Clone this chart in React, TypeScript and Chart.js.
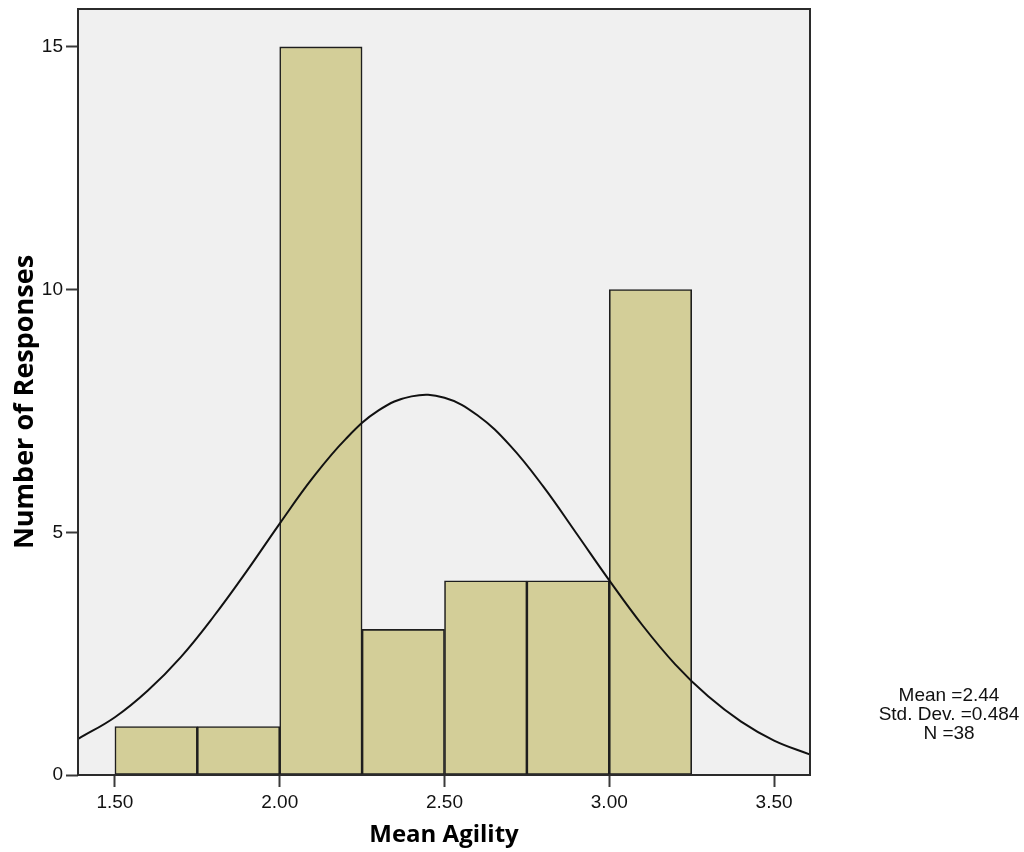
import React, { useEffect, useRef } from "react";
import { Chart, registerables } from "chart.js";

Chart.register(...registerables);

// Histogram bins (centers) and counts
const binCenters = [1.625, 1.875, 2.125, 2.375, 2.625, 2.875, 3.125];
const binCounts = [1, 1, 15, 3, 4, 4, 10];

// Normal curve
const curveX = [1.39, 1.5, 1.6, 1.7, 1.8, 1.9, 2.0, 2.1, 2.2, 2.3, 2.4, 2.5, 2.6, 2.7, 2.8, 2.9, 3.0, 3.1, 3.2, 3.3, 3.4, 3.5, 3.61];
const curveY = [0.75, 1.19, 1.74, 2.43, 3.27, 4.2, 5.18, 6.12, 6.92, 7.51, 7.8, 7.77, 7.41, 6.78, 5.94, 4.98, 4.01, 3.09, 2.28, 1.62, 1.1, 0.71, 0.42];

const xTicks = [1.5, 2.0, 2.5, 3.0, 3.5];
const yTicks = [0, 5, 10, 15];
const xTitle = "Mean Agility";
const yTitle = "Number of Responses";
const statLines = ["Mean =2.44", "Std. Dev. =0.484", "N =38"];

const X_MIN = 1.388;
const X_MAX = 3.609;
const Y_MAX = 15.78;

const TICK_FONT = "'Liberation Sans', Arial, sans-serif";
const TITLE_FONT = "'Open Sans', 'DejaVu Sans', sans-serif";

const decorPlugin = {
  id: "decor",
  beforeDraw(chart: any) {
    const { ctx, chartArea: a } = chart;
    ctx.save();
    ctx.fillStyle = "#f0f0f0";
    ctx.fillRect(a.left, a.top, a.right - a.left, a.bottom - a.top);
    ctx.restore();
  },
  afterDatasetsDraw(chart: any) {
    const { ctx, chartArea: a } = chart;
    ctx.save();
    ctx.strokeStyle = "#2b2b2b";
    ctx.lineWidth = 2;
    ctx.strokeRect(a.left, a.top, a.right - a.left, a.bottom - a.top);
    ctx.restore();
  },
  afterDraw(chart: any) {
    const { ctx } = chart;
    ctx.save();
    ctx.fillStyle = "#000";
    // x title
    ctx.font = `bold 24px ${TITLE_FONT}`;
    ctx.textAlign = "center";
    ctx.textBaseline = "alphabetic";
    ctx.fillText(xTitle, 444, 842);
    // y title
    ctx.save();
    ctx.translate(33, 402);
    ctx.rotate(-Math.PI / 2);
    ctx.font = `bold 27px ${TITLE_FONT}`;
    ctx.fillText(yTitle, 0, 0);
    ctx.restore();
    // stats
    ctx.font = `19px ${TICK_FONT}`;
    ctx.fillStyle = "#111";
    const ys = [701, 720, 739];
    statLines.forEach((t, i) => ctx.fillText(t, 949, ys[i]));
    ctx.restore();
  },
};

export default function App() {
  const ref = useRef<HTMLCanvasElement | null>(null);

  useEffect(() => {
    if (!ref.current) return;
    const chart = new Chart(ref.current, {
      type: "bar",
      data: {
        datasets: [
          {
            type: "line",
            data: curveX.map((x, i) => ({ x, y: curveY[i] })),
            borderColor: "#111",
            borderWidth: 2,
            pointRadius: 0,
            tension: 0.4,
            fill: false,
            order: 0,
          } as any,
          {
            type: "bar",
            data: binCenters.map((x, i) => ({ x, y: binCounts[i] })),
            backgroundColor: "#d3ce98",
            borderColor: "#1e1e1e",
            borderWidth: 1.6,
            borderSkipped: false,
            barPercentage: 1,
            categoryPercentage: 1,
            order: 1,
          } as any,
        ],
      },
      options: {
        responsive: false,
        maintainAspectRatio: false,
        animation: false,
        layout: { padding: { left: 0, right: 214, top: 9, bottom: 0 } },
        plugins: { legend: { display: false }, tooltip: { enabled: false } },
        scales: {
          x: {
            type: "linear",
            min: X_MIN,
            max: X_MAX,
            offset: false,
            grid: {
              display: true,
              drawOnChartArea: false,
              drawTicks: true,
              tickLength: 12,
              tickWidth: 2,
              tickColor: "#3a3a3a",
              offset: false,
            },
            border: { display: false },
            afterBuildTicks: (s: any) => {
              s.ticks = xTicks.map((v) => ({ value: v }));
            },
            afterFit: (s: any) => {
              s.height = 77;
              s.paddingLeft = 0;
              s.paddingRight = 0;
            },
            ticks: {
              autoSkip: false,
              maxRotation: 0,
              padding: 4,
              color: "#111",
              font: { family: TICK_FONT, size: 19 },
              callback: (v: any) => Number(v).toFixed(2),
            },
          },
          y: {
            type: "linear",
            min: 0,
            max: Y_MAX,
            grid: {
              display: true,
              drawOnChartArea: false,
              drawTicks: true,
              tickLength: 12,
              tickWidth: 2,
              tickColor: "#3a3a3a",
            },
            border: { display: false },
            afterBuildTicks: (s: any) => {
              s.ticks = yTicks.map((v) => ({ value: v }));
            },
            afterFit: (s: any) => {
              s.width = 78;
              s.paddingTop = 0;
              s.paddingBottom = 0;
            },
            ticks: {
              autoSkip: false,
              padding: 3,
              color: "#111",
              font: { family: TICK_FONT, size: 19 },
            },
          },
        },
      },
      plugins: [decorPlugin],
    } as any);
    return () => chart.destroy();
  }, []);

  return (
    <div style={{ position: "absolute", left: 0, top: 0, width: 1024, height: 852, background: "#fff" }}>
      <canvas ref={ref} width={1024} height={852} style={{ width: 1024, height: 852 }} />
    </div>
  );
}
